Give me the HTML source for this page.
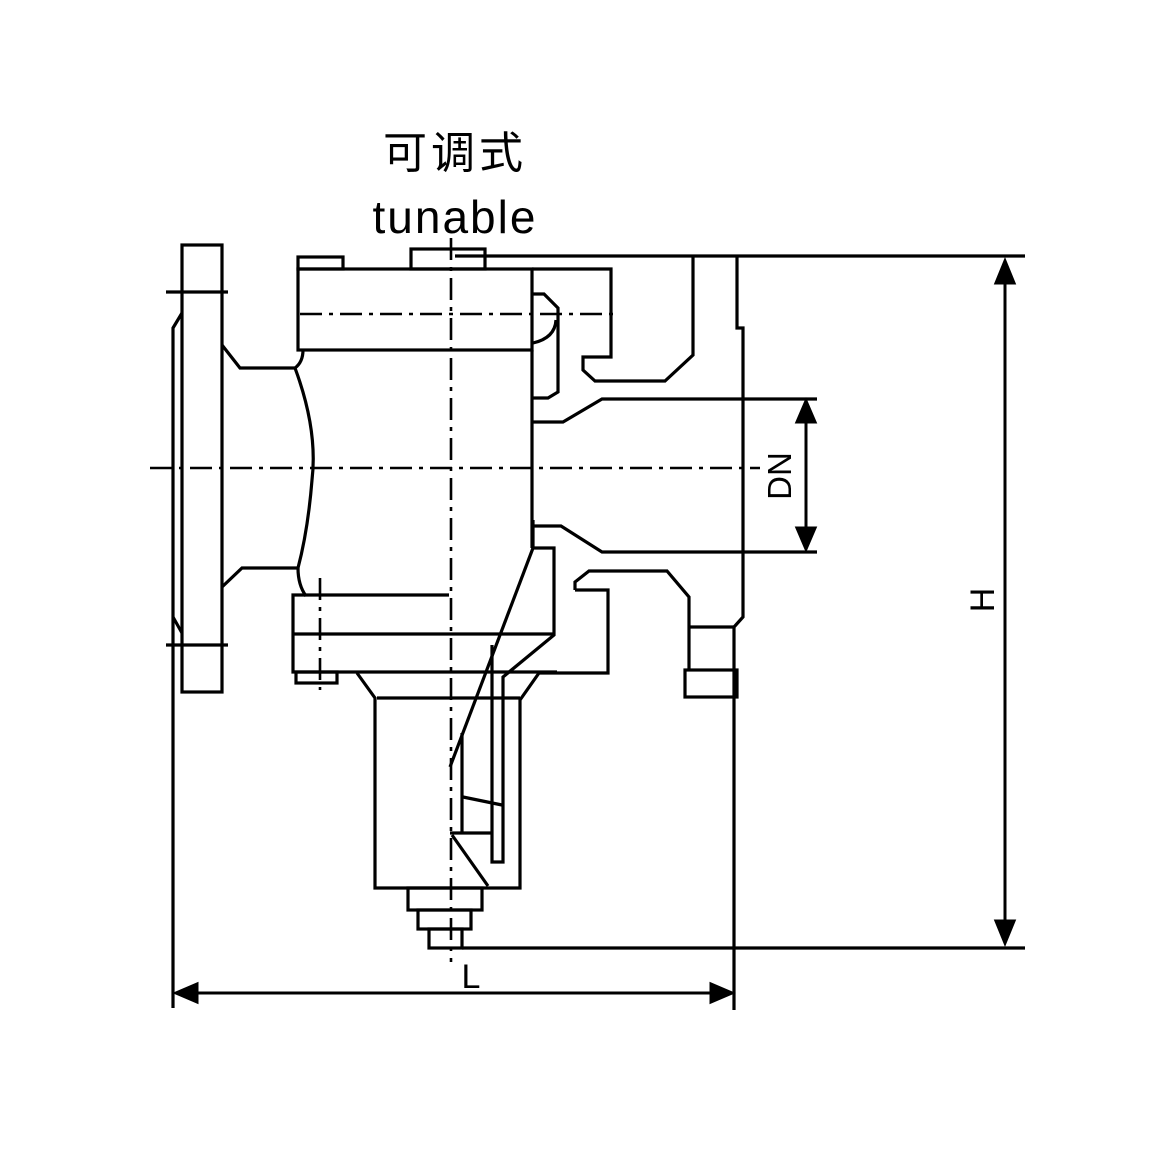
<!DOCTYPE html>
<html><head><meta charset="utf-8"><style>
html,body{margin:0;padding:0;background:#fff;width:1174px;height:1174px;overflow:hidden}
</style></head><body>
<svg width="1174" height="1174" viewBox="0 0 1174 1174" xmlns="http://www.w3.org/2000/svg">
<g fill="none" stroke="#000" stroke-width="3.2" stroke-linejoin="miter">
<rect x="182" y="245" width="40" height="447"/>
<line x1="166" y1="292" x2="228" y2="292"/>
<line x1="166" y1="645" x2="228" y2="645"/>
<polyline points="182,313 173,328 173,1008"/>
<line x1="173" y1="617" x2="182" y2="633"/>
<path d="M222,345 L240,368 L295,368 Q303,362 303,350"/>
<path d="M295,368 Q318,430 312,480 Q308,530 298,568 L242,568 L222,587"/>
<path d="M298,568 Q298,585 306,596"/>
<rect x="298" y="269" width="234" height="81"/>
<rect x="298" y="257" width="45" height="12"/>
<rect x="411" y="249" width="74" height="20"/>
<line x1="455" y1="256" x2="1025" y2="256"/>
<polyline points="532,269 611,269 611,357 583,357 583,370 595,381 665,381 693,355 693,255"/>
<polyline points="737,255 737,328 743,328 743,617 734,627 734,1010"/>
<path d="M533,294 L544,294 L558,308 L558,392 L548,398 L533,398"/>
<path d="M533,343 Q555,338 556,320"/>
<line x1="532" y1="350" x2="532" y2="548"/>
<polyline points="533,422 563,422 602,399 817,399"/>
<polyline points="533,526 561,526 602,552 817,552"/>
<polyline points="575,590 575,582 589,571 667,571 689,597 689,670"/>
<polyline points="575,590 608,590 608,673 539,673 520,700 520,888 375,888 375,698 357,673"/>
<line x1="377" y1="698" x2="520" y2="698"/>
<line x1="690" y1="627" x2="734" y2="627"/>
<rect x="685" y="670" width="52" height="27"/>
<polyline points="449,595 293,595 293,672 557,672"/>
<line x1="293" y1="634" x2="555" y2="634"/>
<polyline points="533,520 533,548 554,548 554,635 503,677 503,862 492,862 492,645"/>
<line x1="533" y1="548" x2="450" y2="767"/>
<line x1="462" y1="733" x2="462" y2="833"/>
<line x1="463" y1="797" x2="502" y2="805"/>
<line x1="450" y1="833" x2="492" y2="833"/>
<line x1="452" y1="835" x2="488" y2="886"/>
<rect x="296" y="672" width="41" height="11"/>
<rect x="408" y="888" width="74" height="22"/>
<rect x="418" y="910" width="53" height="19"/>
<rect x="429" y="929" width="33" height="19"/>
<line x1="462" y1="948" x2="1025" y2="948"/>
</g>
<g fill="none" stroke="#000" stroke-width="2.6" stroke-dasharray="22,7,4,7">
<line x1="150" y1="468" x2="760" y2="468"/>
<line x1="451" y1="238" x2="451" y2="962"/>
<line x1="300" y1="314" x2="614" y2="314"/>
<line x1="320" y1="578" x2="320" y2="690"/>
</g>
<g stroke="#000" stroke-width="3" fill="#000">
<line x1="806" y1="415" x2="806" y2="536"/>
<polygon points="806,401 797,422 815,422"/>
<polygon points="806,549 797,528 815,528"/>
<line x1="1005" y1="275" x2="1005" y2="930"/>
<polygon points="1005,261 996,283 1014,283"/>
<polygon points="1005,943 996,921 1014,921"/>
<line x1="190" y1="993" x2="718" y2="993"/>
<polygon points="176,993 197,984 197,1002"/>
<polygon points="732,993 711,984 711,1002"/>
</g>
<g font-family="'Liberation Sans','Noto Sans CJK SC',sans-serif" fill="#000">
<text x="455" y="168" font-size="44" letter-spacing="4" text-anchor="middle">可调式</text>
<text x="455" y="233" font-size="46" letter-spacing="2" text-anchor="middle">tunable</text>
<text x="471" y="988" font-size="34" text-anchor="middle">L</text>
<text transform="translate(791,476) rotate(-90)" font-size="33" text-anchor="middle">DN</text>
<text transform="translate(994,600) rotate(-90)" font-size="34" text-anchor="middle">H</text>
</g>
</svg>
</body></html>
